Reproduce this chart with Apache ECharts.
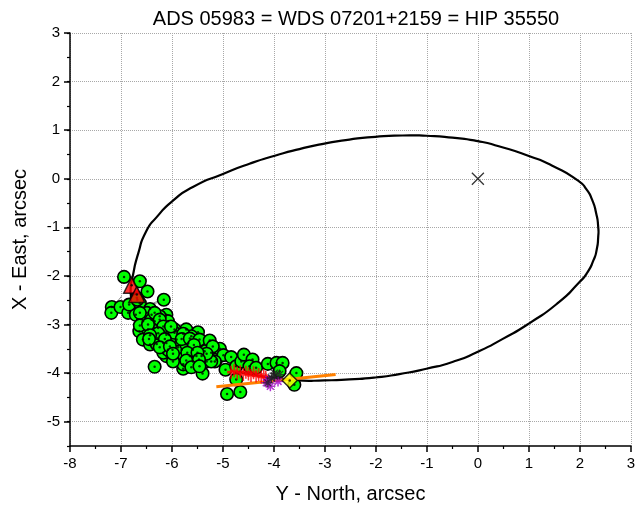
<!DOCTYPE html>
<html><head><meta charset="utf-8">
<script src="https://cdn.jsdelivr.net/npm/echarts@6/dist/echarts.min.js"></script>
<style>html,body{margin:0;padding:0;background:#fff}#c{width:638px;height:512px}</style>
</head><body><div id="c"></div>
<script>
const titleText = 'ADS 05983 = WDS 07201+2159 = HIP 35550';
const xName = 'Y - North, arcsec';
const yName = 'X - East, arcsec';
const yTicks = [-5, -4, -3, -2, -1, 0, 1, 2, 3];

// orbit ellipse points (Y-North, X-East), closed loop
const orbit = [
  [-6.81,-2.30],[-6.77,-2.01],[-6.66,-1.53],[-6.51,-1.09],[-6.30,-0.79],[-5.98,-0.45],[-5.59,-0.17],
  [-5.00,0.10],[-4.48,0.31],[-3.95,0.485],[-3.50,0.611],[-3.01,0.724],[-2.52,0.807],[-2.01,0.863],
  [-1.48,0.89],[-1.01,0.885],[-0.50,0.846],[0.00,0.775],[0.41,0.67],[1.00,0.47],[1.46,0.27],
  [1.98,-0.05],[2.13,-0.22],[2.24,-0.43],[2.32,-0.71],[2.36,-0.99],[2.36,-1.20],[2.33,-1.46],
  [2.27,-1.67],[2.14,-1.94],[1.98,-2.14],[1.59,-2.54],[1.00,-2.98],[0.48,-3.30],[0.00,-3.56],
  [-0.50,-3.77],[-1.01,-3.91],[-1.54,-4.02],[-2.01,-4.09],[-2.52,-4.13],[-3.01,-4.15],[-3.50,-4.15],
  [-3.94,-4.10],[-4.44,-4.03],[-4.85,-3.92],[-5.44,-3.72],[-5.90,-3.51],[-6.42,-3.24],[-6.68,-2.83],
  [-6.77,-2.55]
];

const greenObs = [
  [-6.94,-2.02],[-6.63,-2.11],[-6.48,-2.32],[-6.16,-2.49],[-7.18,-2.64],[-7.19,-2.76],[-7.01,-2.64],
  [-6.86,-2.76],[-6.71,-2.80],[-6.84,-2.59],[-6.69,-2.45],[-6.63,-2.56],[-6.43,-2.68],[-6.40,-2.80],
  [-6.53,-2.86],[-6.34,-2.93],[-6.11,-2.80],[-6.08,-2.93],[-6.27,-3.07],[-6.64,-3.14],[-6.47,-3.10],
  [-6.57,-3.31],[-6.43,-3.41],[-6.29,-3.28],[-6.17,-3.38],[-6.06,-3.21],[-5.91,-3.14],[-5.72,-3.10],
  [-5.49,-3.16],[-5.93,-3.35],[-5.81,-3.52],[-5.99,-3.52],[-6.11,-3.65],[-5.88,-3.69],[-5.68,-3.38],
  [-5.59,-3.52],[-5.42,-3.45],[-5.65,-3.65],[-5.42,-3.65],[-5.23,-3.58],[-5.13,-3.72],[-6.34,-3.87],
  [-5.78,-3.91],[-5.40,-4.01],[-6.11,-3.21],[-5.95,-3.10],[-5.62,-3.24],[-6.30,-3.40],[-6.11,-3.38],
  [-5.88,-3.47],[-5.72,-3.41],[-5.06,-3.50],[-4.99,-3.63],[-4.84,-3.67],[-5.16,-3.76],[-5.32,-3.76],
  [-5.59,-3.76],[-5.78,-3.82],[-5.98,-3.76],[-4.95,-3.93],[-4.74,-3.86],[-4.64,-3.76],[-4.59,-3.62],
  [-4.42,-3.72],[-4.48,-3.86],[-4.35,-3.89],[-4.12,-3.81],[-3.95,-3.79],[-3.83,-3.79],[-4.74,-4.13],
  [-4.92,-4.43],[-4.66,-4.39],[-3.60,-4.24],[-3.56,-4.00],[-5.52,-3.65],[-5.23,-3.76],[-6.17,-3.58],
  [-6.08,-3.52],[-6.49,-2.76],[-6.57,-2.93],[-6.40,-2.90],[-6.24,-2.83],[-5.91,-3.31],[-5.95,-3.17],
  [-5.36,-3.55],[-6.63,-2.76],[-6.68,-2.49],[-3.89,-3.96],
  [-6.34,-2.76],[-6.24,-2.90],[-6.63,-3.02],[-6.47,-3.00],[-6.17,-3.04],[-6.02,-3.04],[-6.27,-3.18],
  [-5.78,-3.19],[-6.43,-3.22],[-6.45,-3.30],[-6.14,-3.30],[-5.81,-3.30],[-5.65,-3.29],[-5.46,-3.31],
  [-5.26,-3.33],[-6.24,-3.47],[-6.04,-3.45],[-5.57,-3.42],[-5.20,-3.45],[-5.98,-3.60],[-5.70,-3.58],
  [-5.32,-3.60],[-5.50,-3.58],[-5.72,-3.74],[-5.47,-3.72],[-5.62,-3.88],[-5.46,-3.86]
];

const ocLines = [
  [[-7.12,-2.59],[-6.99,-2.42]],
  [[-6.43,-2.59],[-6.22,-2.49]],
  [[-6.51,-2.61],[-6.24,-2.54]],
  [[-4.42,-3.72],[-4.20,-3.80]]
];

const redTriangles = [[-6.79,-2.19],[-6.69,-2.38]];
const redCrosses = [
  [-4.84,-3.98],[-4.78,-3.95],[-4.72,-4.00],[-4.66,-3.97],[-4.60,-4.03],[-4.55,-3.98],[-4.50,-4.02],
  [-4.45,-4.05],[-4.40,-3.99],[-4.35,-4.06],[-4.30,-4.03],[-4.25,-4.08],[-4.20,-4.05],[-4.16,-4.09]
];
const purpleStars = [[-4.10,-4.13],[-4.07,-4.27],[-3.92,-4.17],[-4.15,-4.20]];
const blackStars = [[-3.89,-4.03],[-3.99,-4.00],[-4.05,-4.10],[-3.99,-4.06],[-4.12,-4.20]];
const yellowDiamond = [[-3.69,-4.15]];
const orangeSegment = [[-5.13,-4.28],[-2.79,-4.03]];
const primary = [[0, 0]];

const FONT = '"Liberation Sans", Arial, sans-serif';
const chart = echarts.init(document.getElementById('c'), null, {renderer: 'canvas'});

const plusPath = 'path://M5,0L5,10M0,5L10,5';
const xPath = 'path://M0,0L10,10M10,0L0,10';
const starPath = 'path://M5,0L5,10M0,5L10,5M1.5,1.5L8.5,8.5M8.5,1.5L1.5,8.5';

// closed smooth curve through the orbit points (positions from the axis scales)
function renderOrbit(params, api) {
  if (params.dataIndex !== 0) return null;
  const P = orbit.map(p => api.coord(p));
  const n = P.length;
  const dist = (a, b) => Math.hypot(b[0] - a[0], b[1] - a[1]);
  let d = 'M' + P[0][0] + ' ' + P[0][1];
  for (let i = 0; i < n; i++) {
    const p0 = P[(i - 1 + n) % n], p1 = P[i], p2 = P[(i + 1) % n], p3 = P[(i + 2) % n];
    const d01 = dist(p0, p1), d12 = dist(p1, p2), d23 = dist(p2, p3);
    const s1 = d12 / (d01 + d12) / 1.5, s2 = d12 / (d12 + d23) / 1.5;
    const c1 = [p1[0] + (p2[0] - p0[0]) * s1, p1[1] + (p2[1] - p0[1]) * s1];
    const c2 = [p2[0] - (p3[0] - p1[0]) * s2, p2[1] - (p3[1] - p1[1]) * s2];
    d += 'C' + c1[0] + ' ' + c1[1] + ' ' + c2[0] + ' ' + c2[1] + ' ' + p2[0] + ' ' + p2[1];
  }
  d += 'Z';
  return {type: 'path', shape: {pathData: d},
    style: {fill: 'none', stroke: '#000', lineWidth: 2.2}};
}

chart.setOption({
  backgroundColor: '#fff',
  animation: false,
  title: {
    text: titleText, left: 351, top: 4, textAlign: 'center',
    textStyle: {fontFamily: FONT, fontSize: 20, fontWeight: 'normal', color: '#000'}
  },
  grid: {left: 70, right: 6, top: 33, bottom: 66, containLabel: false},
  xAxis: {
    type: 'value', min: -8, max: 3, interval: 1,
    name: xName, nameLocation: 'middle', nameGap: 38,
    nameTextStyle: {fontFamily: FONT, fontSize: 20, color: '#000'},
    axisLine: {show: true, onZero: false, lineStyle: {color: '#000', width: 1.5}},
    axisTick: {show: true, length: 6, lineStyle: {color: '#000', width: 1.5}},
    minorTick: {show: true, splitNumber: 2, length: 3, lineStyle: {color: '#000', width: 1.2}},
    axisLabel: {fontFamily: FONT, fontSize: 15, color: '#000', margin: 10},
    splitLine: {show: true, lineStyle: {color: '#a8a8a8', type: 'dotted', width: 1}}
  },
  yAxis: [{
    type: 'value', min: -5.5, max: 3,
    name: yName, nameLocation: 'middle', nameGap: 40,
    nameTextStyle: {fontFamily: FONT, fontSize: 20, color: '#000'},
    axisLine: {show: true, onZero: false, lineStyle: {color: '#000', width: 1.5}},
    axisTick: {show: true, length: 6, customValues: yTicks, lineStyle: {color: '#000', width: 1.5}},
    axisLabel: {fontFamily: FONT, fontSize: 15, color: '#000', margin: 10, customValues: yTicks},
    splitLine: {show: true, customValues: yTicks, lineStyle: {color: '#a8a8a8', type: 'dotted', width: 1}}
  }, {
    type: 'value', min: -5.5, max: 3, interval: 0.5, position: 'left', offset: 0,
    axisLine: {show: false, onZero: false},
    axisTick: {show: true, length: 3, lineStyle: {color: '#000', width: 1.2}},
    axisLabel: {show: false},
    splitLine: {show: false}
  }],
  series: [
    {type: 'custom', data: orbit, renderItem: renderOrbit, silent: true, z: 2},
    ...ocLines.map(seg => ({type: 'line', data: seg, showSymbol: false, silent: true,
     lineStyle: {color: '#8c8c8c', width: 1}, z: 3})),
    {type: 'scatter', data: greenObs, symbol: 'circle', symbolSize: 12.5,
     itemStyle: {color: '#00ff00', borderColor: '#000', borderWidth: 1.6, opacity: 1}, z: 4},
    {type: 'scatter', data: greenObs, symbol: 'circle', symbolSize: 2.5, silent: true,
     itemStyle: {color: '#000'}, z: 5},
    {type: 'line', data: orangeSegment, showSymbol: false, silent: true,
     lineStyle: {color: '#ff8000', width: 3}, z: 6},
    {type: 'scatter', data: redCrosses, symbol: plusPath, symbolSize: [8, 13],
     itemStyle: {color: 'none', borderColor: '#ff0000', borderWidth: 2}, z: 7},
    {type: 'scatter', data: purpleStars, symbol: starPath, symbolSize: 10,
     itemStyle: {color: 'none', borderColor: '#a000c8', borderWidth: 1.5}, z: 7},
    {type: 'scatter', data: blackStars, symbol: starPath, symbolSize: 10,
     itemStyle: {color: 'none', borderColor: '#202020', borderWidth: 1.3}, z: 7},
    {type: 'scatter', data: redTriangles, symbol: 'triangle', symbolSize: 16,
     itemStyle: {color: '#ff0000', borderColor: '#000', borderWidth: 1.5}, z: 8},
    {type: 'scatter', data: redTriangles, symbol: 'circle', symbolSize: 2.5, silent: true,
     itemStyle: {color: '#000'}, z: 9},
    {type: 'scatter', data: yellowDiamond, symbol: 'diamond', symbolSize: 15,
     itemStyle: {color: '#ffff00', borderColor: '#000', borderWidth: 1.5}, z: 10},
    {type: 'scatter', data: yellowDiamond, symbol: 'circle', symbolSize: 2.5, silent: true,
     itemStyle: {color: '#000'}, z: 11},
    {type: 'scatter', data: primary, symbol: xPath, symbolSize: 12,
     itemStyle: {color: 'none', borderColor: '#000', borderWidth: 1.3}, z: 10}
  ]
});
</script></body></html>
